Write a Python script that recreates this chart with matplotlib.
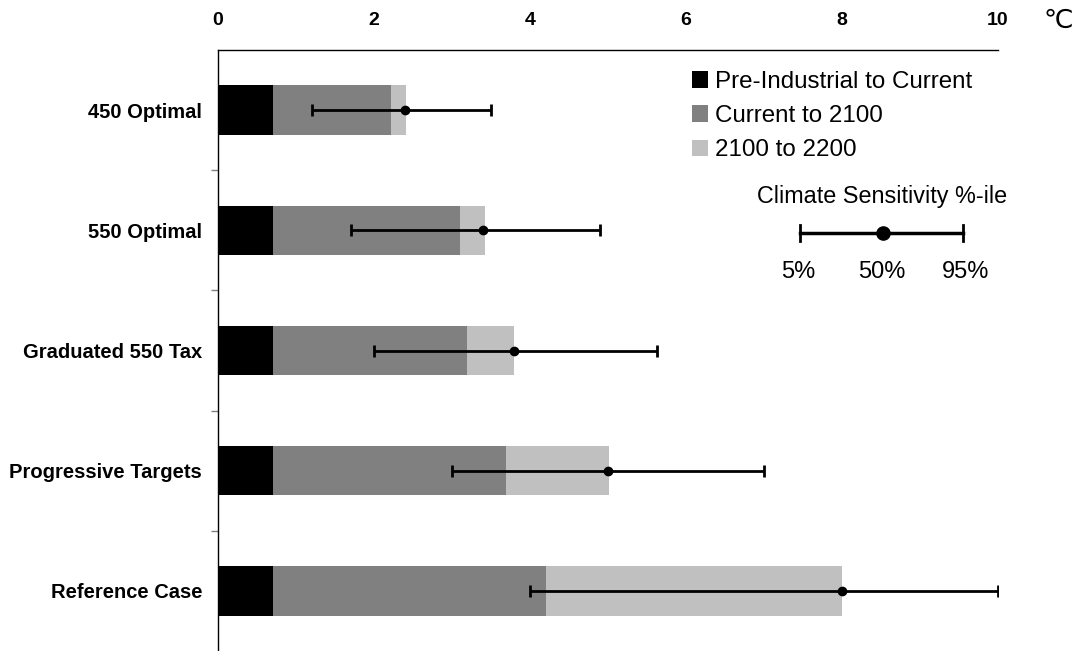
import matplotlib
matplotlib.use("Agg")
import matplotlib.pyplot as plt
from matplotlib.lines import Line2D

plt.rcParams['font.family'] = ['Liberation Sans', 'DejaVu Sans']

categories = ["450 Optimal", "550 Optimal", "Graduated 550 Tax", "Progressive Targets", "Reference Case"]
pre_to_current = [0.7, 0.7, 0.7, 0.7, 0.7]
current_to_2100 = [1.52, 2.4, 2.49, 2.99, 3.5]   # increment
to_2200 = [0.19, 0.32, 0.61, 1.32, 3.8]          # increment
p50 = [2.4, 3.4, 3.8, 5.0, 8.0]
p05 = [1.2, 1.7, 2.0, 3.0, 4.0]
p95 = [3.5, 4.9, 5.63, 7.0, 10.0]
xticks = [0, 2, 4, 6, 8, 10]
key_labels = ["5%", "50%", "95%"]

col_black = "#000000"
col_mid = "#808080"
col_light = "#c0c0c0"

fig = plt.figure(figsize=(10.79, 6.51), dpi=100)
ax = fig.add_axes([218/1079, 0, 780/1079, 1 - 50/651])

y = list(range(len(categories)))
h = 0.41
left2 = pre_to_current
left3 = [a + b for a, b in zip(pre_to_current, current_to_2100)]
ax.barh(y, pre_to_current, height=h, color=col_black, label="Pre-Industrial to Current")
ax.barh(y, current_to_2100, left=left2, height=h, color=col_mid, label="Current to 2100")
ax.barh(y, to_2200, left=left3, height=h, color=col_light, label="2100 to 2200")

xerr = [[m - lo for m, lo in zip(p50, p05)], [hi - m for m, hi in zip(p50, p95)]]
ax.errorbar(p50, y, xerr=xerr, fmt='o', color='black', ms=6, elinewidth=2,
            capsize=4, capthick=2, zorder=5)

ax.set_xlim(0, 10)
ax.set_ylim(4.5, -0.5)
ax.xaxis.tick_top()
ax.set_xticks(xticks)
ax.set_xticklabels([str(t) for t in xticks], fontweight='bold', fontsize=14)
ax.tick_params(axis='x', length=0, pad=15)

ax.set_yticks([0.5, 1.5, 2.5, 3.5])
ax.set_yticklabels([])
ax.tick_params(axis='y', which='major', length=5, color=col_mid, width=1)
ax.set_yticks(y, minor=True)
ax.set_yticklabels(categories, minor=True, fontweight='bold', fontsize=14.5)
ax.tick_params(axis='y', which='minor', length=0, pad=11.5)

for s in ['right', 'bottom']:
    ax.spines[s].set_visible(False)
ax.spines['top'].set_linewidth(1)
ax.spines['left'].set_linewidth(1)

fig.text(1058/1079, 1 - 21/651, "℃", fontsize=19, ha='center', va='center',
         family=['DejaVu Sans'])

leg = ax.legend(loc='upper left', bbox_to_anchor=(692/1079, 1 - 71/651),
                bbox_transform=fig.transFigure, frameon=False, fontsize=17.4,
                handlelength=0.66, handleheight=0.66, handletextpad=0.3,
                labelspacing=0.5, borderpad=0, borderaxespad=0)

# Climate sensitivity key
fig.text(882/1079, 1 - 197/651, "Climate Sensitivity %-ile", fontsize=16.8,
         ha='center', va='center')
ky = 1 - 233/651
x0, xm, x1 = 800/1079, 883/1079, 963/1079
fig.add_artist(Line2D([x0, x1], [ky, ky], transform=fig.transFigure, color='black', lw=2.5))
for xc in (x0, x1):
    fig.add_artist(Line2D([xc, xc], [ky - 8/651, ky + 8/651], transform=fig.transFigure,
                          color='black', lw=2))
fig.add_artist(Line2D([xm], [ky], transform=fig.transFigure, marker='o', ms=9.5,
                      color='black'))
for xt, t in zip((798, 882, 966), key_labels):
    fig.text(xt/1079, 1 - 272/651, t, fontsize=17, ha='center', va='center')

fig.savefig("out.png", dpi=100)
